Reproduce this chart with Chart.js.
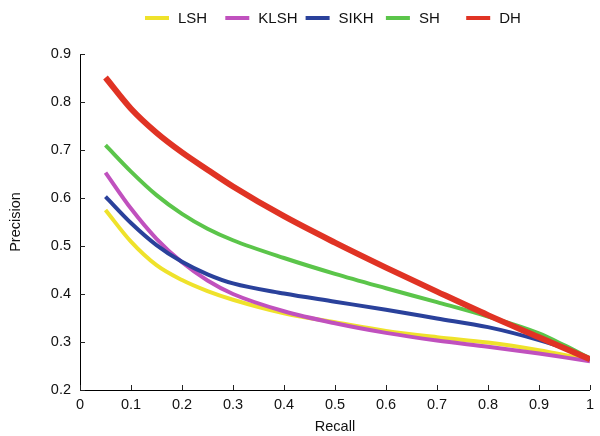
<!DOCTYPE html>
<html>
<head>
<meta charset="utf-8">
<script src="https://cdn.jsdelivr.net/npm/chart.js@4/dist/chart.umd.min.js"></script>
<style>
  html, body { margin: 0; padding: 0; background: #fff; }
  canvas { display: block; }
</style>
</head>
<body>
<canvas id="prChart" width="600" height="436"></canvas>
<script>
// Recall points (x) and precision per method (y)
const recall = [0.05, 0.1, 0.15, 0.2, 0.25, 0.3, 0.4, 0.5, 0.6, 0.7, 0.8, 0.9, 0.95, 1];
const lsh  = [0.575, 0.509, 0.460, 0.429, 0.406, 0.388, 0.360, 0.341, 0.323, 0.310, 0.299, 0.283, 0.273, 0.262];
const klsh = [0.653, 0.578, 0.515, 0.466, 0.428, 0.400, 0.364, 0.339, 0.319, 0.303, 0.290, 0.276, 0.268, 0.260];
const sikh = [0.603, 0.548, 0.502, 0.467, 0.441, 0.422, 0.401, 0.384, 0.367, 0.349, 0.331, 0.304, 0.287, 0.264];
const sh   = [0.710, 0.655, 0.606, 0.567, 0.536, 0.512, 0.475, 0.442, 0.412, 0.383, 0.353, 0.318, 0.293, 0.266];
const dh   = [0.851, 0.786, 0.736, 0.695, 0.659, 0.624, 0.562, 0.507, 0.455, 0.405, 0.356, 0.310, 0.287, 0.264];

const seriesNames = ['LSH', 'KLSH', 'SIKH', 'SH', 'DH'];
const seriesData = [lsh, klsh, sikh, sh, dh];
const colors = ['#efe22b', '#c051be', '#2a419b', '#5bc54a', '#e03324'];
const widths = [4, 4, 4, 4, 6];

const FONT = "'Liberation Sans', Arial, Helvetica, sans-serif";

// legend with fixed spacing per item, like the original figure
const fixedLegend = {
    id: 'fixedLegend',
    afterDraw(chart) {
        const ctx = chart.ctx;
        const area = chart.chartArea;
        const step = 80.3;
        let x = area.left + 65;
        const y = 18;
        ctx.save();
        ctx.font = '15px ' + FONT;
        ctx.textBaseline = 'middle';
        ctx.textAlign = 'left';
        chart.data.datasets.forEach(ds => {
            ctx.fillStyle = ds.borderColor;
            ctx.fillRect(x, y - 2, 24, 4);
            ctx.fillStyle = '#111';
            ctx.fillText(ds.label, x + 33, y + 0.5);
            x += step;
        });
        ctx.restore();
    }
};

// small tick marks pointing into the plot
const innerTicks = {
    id: 'innerTicks',
    afterDraw(chart) {
        const ctx = chart.ctx;
        const xs = chart.scales.x, ys = chart.scales.y;
        ctx.save();
        ctx.strokeStyle = '#222';
        ctx.lineWidth = 1;
        ctx.beginPath();
        xs.ticks.forEach(t => {
            const px = Math.round(xs.getPixelForValue(t.value)) + 0.5;
            ctx.moveTo(px, xs.top);
            ctx.lineTo(px, xs.top - 5);
        });
        ys.ticks.forEach(t => {
            const py = Math.round(ys.getPixelForValue(t.value)) + 0.5;
            ctx.moveTo(ys.right, py);
            ctx.lineTo(ys.right + 5, py);
        });
        ctx.stroke();
        ctx.restore();
    }
};

const ctx = document.getElementById('prChart').getContext('2d');

new Chart(ctx, {
    type: 'line',
    data: {
        datasets: seriesNames.map((name, i) => ({
            label: name,
            data: recall.map((r, j) => ({ x: r, y: seriesData[i][j] })),
            borderColor: colors[i],
            backgroundColor: colors[i],
            borderWidth: widths[i],
            pointRadius: 0,
            cubicInterpolationMode: 'monotone',
            fill: false,
            order: 5 - i   // DH drawn on top
        }))
    },
    options: {
        responsive: false,
        animation: false,
        layout: { padding: { top: 54, right: 7, left: 0, bottom: 0 } },
        plugins: {
            legend: { display: false },
            tooltip: { enabled: false }
        },
        scales: {
            x: {
                type: 'linear',
                min: 0, max: 1,
                grid: { display: false, drawTicks: false },
                border: { display: true, color: '#000', width: 1 },
                ticks: {
                    stepSize: 0.1,
                    padding: 6,
                    color: '#111',
                    font: { family: FONT, size: 14.5 },
                    maxRotation: 0,
                    callback: v => Math.abs(v) < 1e-9 ? '0' : (Math.abs(v - 1) < 1e-9 ? '1' : v.toFixed(1))
                },
                title: {
                    display: true,
                    text: 'Recall',
                    color: '#111',
                    font: { family: FONT, size: 14.5 },
                    padding: { top: 0, bottom: 0 }
                },
                afterFit: s => { s.height = 46; }
            },
            y: {
                type: 'linear',
                min: 0.2, max: 0.9,
                grid: { display: false, drawTicks: false },
                border: { display: true, color: '#000', width: 1 },
                ticks: {
                    stepSize: 0.1,
                    padding: 9,
                    color: '#111',
                    font: { family: FONT, size: 14.5 },
                    callback: v => v.toFixed(1)
                },
                title: {
                    display: true,
                    text: 'Precision',
                    color: '#111',
                    font: { family: FONT, size: 14.5 },
                    padding: { top: 7, bottom: 0 }
                },
                afterFit: s => { s.width = 80; }
            }
        }
    },
    plugins: [fixedLegend, innerTicks]
});
</script>
</body>
</html>
